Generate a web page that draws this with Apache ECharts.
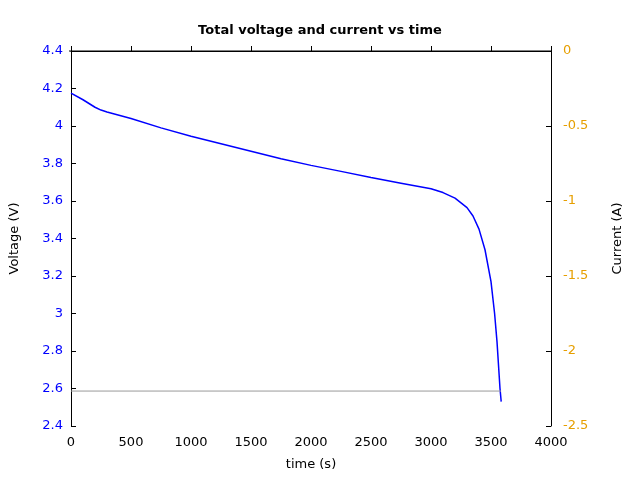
<!DOCTYPE html>
<html>
<head>
<meta charset="utf-8" />
<script src="https://cdn.jsdelivr.net/npm/echarts@6/dist/echarts.min.js"></script>
</head>
<body style="margin:0">
<div id="chart" style="width:640px;height:480px"></div>
<script>
const timeS = [0, 100, 200, 250, 300, 500, 750, 1000, 1250, 1500, 1750, 2000, 2250, 2500, 2750, 3000, 3100, 3200, 3250, 3300, 3350, 3400, 3450, 3500, 3530, 3550, 3565, 3575, 3585];
const voltage = [4.175, 4.14, 4.1, 4.085, 4.075, 4.04, 3.99, 3.945, 3.905, 3.865, 3.825, 3.79, 3.758, 3.725, 3.695, 3.665, 3.645, 3.615, 3.59, 3.565, 3.52, 3.45, 3.34, 3.17, 3.0, 2.85, 2.7, 2.6, 2.53];
const currentTime = [0, 3585];
const current = [-2.267, -2.267];

const chart = echarts.init(document.getElementById("chart"));
const font = "DejaVu Sans";
chart.setOption({
  animation: false,
  textStyle: {fontFamily: font},
  title: {text: "Total voltage and current vs time", left: "center", top: 19,
    textStyle: {fontSize: 13, fontWeight: "bold", color: "#000", fontFamily: font}},
  grid: {left: 69, right: 89, top: 51, bottom: 54},
  xAxis: {type: "value", min: 0, max: 4000, interval: 500, name: "time (s)",
    nameLocation: "middle", nameGap: 32, nameTextStyle: {color: "#000", fontSize: 13},
    axisLine: {lineStyle: {color: "#000"}}, axisTick: {inside: true, length: 5},
    axisLabel: {color: "#000", fontSize: 13, margin: 10, formatter: v => String(v)}, splitLine: {show: false}},
  yAxis: [
    {type: "value", min: 2.4, max: 4.4, interval: 0.2, name: "Voltage (V)",
      nameLocation: "middle", nameGap: 50, nameTextStyle: {color: "#000", fontSize: 13},
      axisLine: {show: true, lineStyle: {color: "#000"}}, axisTick: {show: true, inside: true, length: 5},
      axisLabel: {color: "#0000ff", fontSize: 13, formatter: v => String(+v.toFixed(1))}, splitLine: {show: false}},
    {type: "value", min: -2.5, max: 0, interval: 0.5, name: "Current (A)",
      nameLocation: "middle", nameGap: 60, nameTextStyle: {color: "#000", fontSize: 13},
      axisLine: {show: true, lineStyle: {color: "#000"}}, axisTick: {show: true, inside: true, length: 5},
      axisLabel: {color: "#e69f00", fontSize: 13, margin: 12}, splitLine: {show: false}}
  ],
  series: [
    {type: "line", yAxisIndex: 0, data: timeS.map((t, i) => [t, voltage[i]]),
      showSymbol: false, lineStyle: {color: "#0000ff", width: 1.5}},
    {type: "line", yAxisIndex: 1, data: currentTime.map((t, i) => [t, current[i]]),
      showSymbol: false, lineStyle: {color: "#999999", width: 1}}
  ],
  graphic: [{type: "line", shape: {x1: 69, y1: 51, x2: 551, y2: 51}, style: {stroke: "#000", lineWidth: 1}}]
});
</script>
</body>
</html>
